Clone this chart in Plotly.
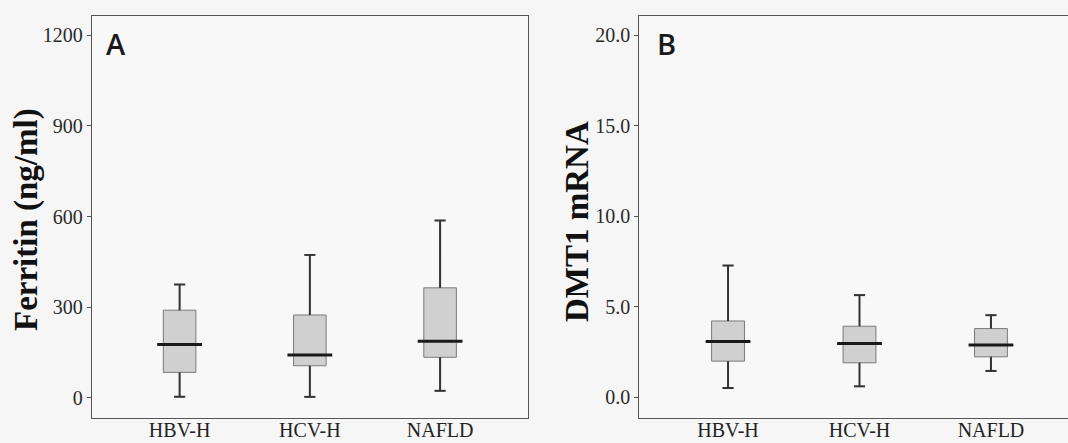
import plotly.graph_objects as go

# ---------------- data ----------------
categories = ["HBV-H", "HCV-H", "NAFLD"]

ferritin_low = [3, 3, 23]
ferritin_q1 = [84, 106, 134]
ferritin_median = [176, 142, 187]
ferritin_q3 = [290, 274, 364]
ferritin_high = [375, 473, 587]

dmt1_low = [0.50, 0.59, 1.44]
dmt1_q1 = [1.98, 1.89, 2.22]
dmt1_median = [3.06, 2.96, 2.87]
dmt1_q3 = [4.20, 3.91, 3.78]
dmt1_high = [7.26, 5.63, 4.52]

ferritin_ticks = [0, 300, 600, 900, 1200]
ferritin_ticktext = ["0", "300", "600", "900", "1200"]
dmt1_ticks = [0, 5, 10, 15, 20]
dmt1_ticktext = ["0.0", "5.0", "10.0", "15.0", "20.0"]

W, H = 1068, 443
SERIF = "Liberation Serif"
DARK = "#333333"

fig = go.Figure()

panels = [
    ("x", "y", ferritin_low, ferritin_q1, ferritin_median, ferritin_q3, ferritin_high),
    ("x2", "y2", dmt1_low, dmt1_q1, dmt1_median, dmt1_q3, dmt1_high),
]

# boxes first (drawn below)
for xa, ya, lo, q1, med, q3, hi in panels:
    fig.add_trace(go.Box(
        x=categories, q1=q1, median=med, q3=q3,
        lowerfence=lo, upperfence=hi,
        width=0.25, whiskerwidth=0.25,
        fillcolor="#d0d0d0",
        line=dict(color="#7a7a7a", width=1),
        boxpoints=False, showlegend=False, hoverinfo="skip",
        xaxis=xa, yaxis=ya,
    ))

# whiskers, caps and medians on top
for xa, ya, lo, q1, med, q3, hi in panels:
    wx, wy = [], []
    for c, a, b, c3, d in zip(categories, lo, q1, q3, hi):
        wx += [c, c, None, c, c, None]
        wy += [c3, d, None, a, b, None]
    fig.add_trace(go.Scatter(
        x=wx, y=wy, mode="lines",
        line=dict(color=DARK, width=2),
        showlegend=False, hoverinfo="skip", xaxis=xa, yaxis=ya,
    ))
    fig.add_trace(go.Scatter(
        x=categories + categories, y=list(hi) + list(lo), mode="markers",
        marker=dict(symbol="line-ew", size=8, line=dict(color=DARK, width=2)),
        showlegend=False, hoverinfo="skip", xaxis=xa, yaxis=ya,
    ))
    fig.add_trace(go.Scatter(
        x=categories, y=med, mode="markers",
        marker=dict(symbol="line-ew", size=32, line=dict(color="#1a1a1a", width=3)),
        showlegend=False, hoverinfo="skip", xaxis=xa, yaxis=ya,
    ))

ydom = [1 - 418 / H, 1 - 16 / H]

xcommon = dict(
    type="category", showgrid=False, zeroline=False, automargin=False,
    showline=True, linecolor="#555555", linewidth=1,
    ticks="", ticklabelstandoff=-6,
    tickfont=dict(family=SERIF, size=20, color="#222222"),
    fixedrange=True,
)
ycommon = dict(
    showgrid=False, zeroline=False, automargin=False,
    showline=True, linecolor="#555555", linewidth=1,
    ticks="outside", ticklen=4, tickwidth=1, tickcolor="#555555",
    tickfont=dict(family=SERIF, size=20, color="#2a2a2a"),
    fixedrange=True,
)

fig.update_layout(
    width=W, height=H,
    margin=dict(l=0, r=0, t=0, b=0, autoexpand=False),
    paper_bgcolor="#f6f6f6", plot_bgcolor="#f8f8f8",
    showlegend=False,
    xaxis=dict(domain=[91.7 / W, 528 / W], range=[-0.675, 2.675],
               mirror=True, anchor="y", **xcommon),
    yaxis=dict(domain=ydom, range=[-67, 1264], tickvals=ferritin_ticks,
               ticktext=ferritin_ticktext, mirror=True, anchor="x", **ycommon),
    xaxis2=dict(domain=[639.3 / W, 1.0], range=[-0.675, 2.586],
                mirror=True, anchor="y2", **xcommon),
    yaxis2=dict(domain=ydom, range=[-1.16, 21.05], tickvals=dmt1_ticks,
                ticktext=dmt1_ticktext, mirror=False, anchor="x2", **ycommon),
)

annotations = [
    dict(text="A", x=104 / W, y=1 - 44 / H, xanchor="left", yanchor="middle",
         font=dict(family="Open Sans", size=29, color="#1a1a1a", weight=600)),
    dict(text="B", x=655 / W, y=1 - 44 / H, xanchor="left", yanchor="middle",
         font=dict(family="Open Sans", size=29, color="#1a1a1a", weight=600)),
    dict(text="Ferritin (ng/ml)", x=27 / W, y=1 - 220 / H, xanchor="center",
         yanchor="middle", textangle=-90,
         font=dict(family=SERIF, size=33, color="#111111", weight="bold")),
    dict(text="DMT1 mRNA", x=577 / W, y=1 - 222 / H, xanchor="center",
         yanchor="middle", textangle=-90,
         font=dict(family=SERIF, size=33, color="#111111", weight="bold")),
]
for a in annotations:
    a.update(xref="paper", yref="paper", showarrow=False)
fig.update_layout(annotations=annotations)

fig.write_html(
    "out.html",
    config={"displayModeBar": False},
    post_script="document.body.style.margin='0px';document.body.style.overflow='hidden';",
)
